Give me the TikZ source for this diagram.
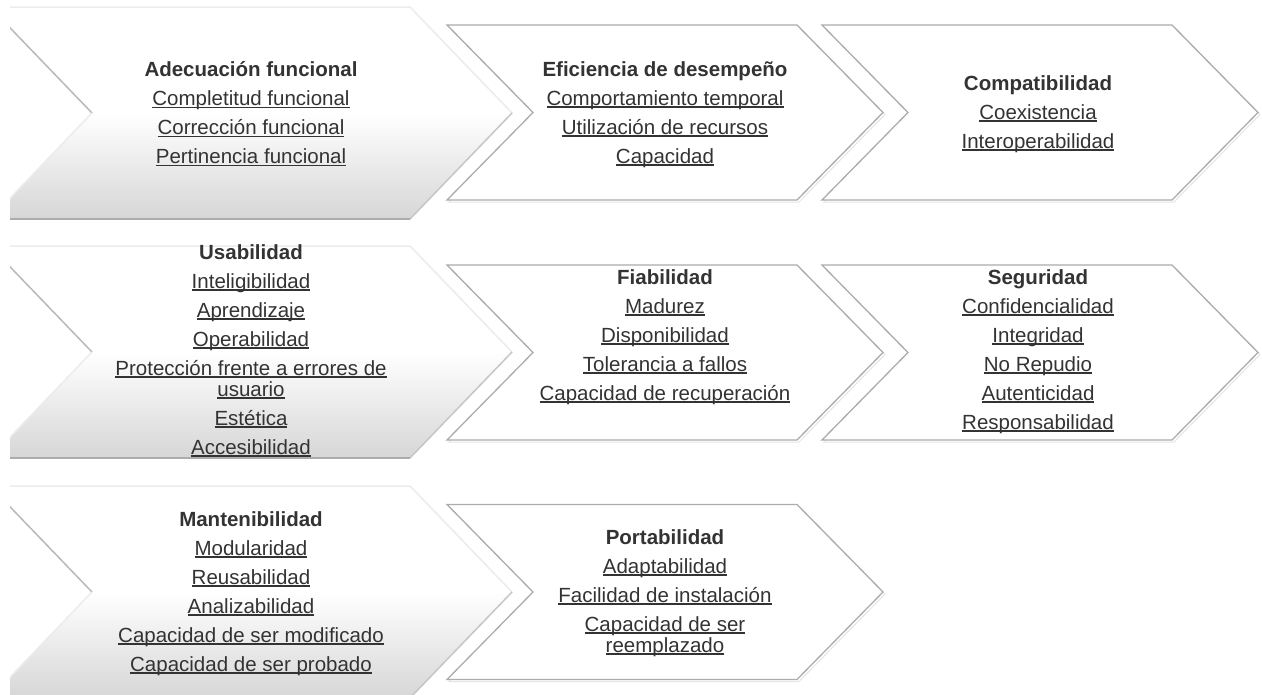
\documentclass[tikz,border=0pt]{standalone}
\usepackage{fontspec}
\setmainfont{Liberation Sans}
\usetikzlibrary{positioning}

\newsavebox{\attrbox}
\newcommand{\attr}[1]{\sbox{\attrbox}{#1}\rlap{\rule[-2.6pt]{\wd\attrbox}{1.2pt}}\usebox{\attrbox}}

% grey chevron of the first column: #1 centre y, #2 name
\newcommand{\bigchevron}[2]{%
  \fill[bigchev] (-10,#1-106) coordinate (#2tl) -- ++(420,0) coordinate (#2tr)
    -- ++(102,106) coordinate (#2tip) -- ++(-102,106) coordinate (#2br)
    -- ++(-420,0) coordinate (#2bl) -- ++(102,-106) coordinate (#2n) -- cycle;
  \draw[edge, gray!55] (#2tl) -- (#2n);
  \draw[edge, gray!15] (#2n) -- (#2bl) (#2tl) -- (#2tr) -- (#2tip);
  \draw[edge, gray!45] (#2tip) -- (#2br);
  \draw[edge, gray!65] (#2br) -- (#2bl);
}
% white chevron: #1 left x, #2 centre y
\newcommand{\smallchevron}[2]{%
  \draw[gray!20, line width=1pt] (#1+2,#2-85.5) -- ++(350,0) -- ++(86,87.5) -- ++(-86,87.5) -- ++(-350,0) -- ++(86,-87.5) -- cycle;
  \filldraw[smallchev] (#1,#2-87.5) -- ++(350,0) -- ++(86,87.5) -- ++(-86,87.5) -- ++(-350,0) -- ++(86,-87.5) -- cycle;
}

\begin{document}
\begin{tikzpicture}[
    x=1pt, y=-1pt,
    bigchev/.style={top color=white, bottom color=gray!32, middle color=white},
    smallchev/.style={fill=white, draw=gray!65, line width=1.3pt},
    edge/.style={line width=1.5pt},
    txt/.style={align=center, inner sep=0pt, anchor=north, text=black!80,
      font=\fontsize{20.5}{21}\selectfont}
  ]
  \useasboundingbox (0,0) rectangle (1262,694);
  \fill[white] (0,0) rectangle (1262,694);

  \begin{scope}
    \clip (10,0) rectangle (1262,694);
    \bigchevron{113}{a}
    \bigchevron{352}{b}
    \bigchevron{592}{c}
  \end{scope}

  \smallchevron{447}{112.5}
  \smallchevron{822}{112.5}
  \smallchevron{447}{352.5}
  \smallchevron{822}{352.5}
  \smallchevron{447}{592}

  \node[txt] (adec) at (251,61) {\textbf{Adecuación funcional}\\[8pt]
    \attr{Completitud funcional}\\[8pt] \attr{Corrección funcional}\\[8pt]
    \attr{Pertinencia funcional}};
  \node[txt] (efic) at (665,61) {\textbf{Eficiencia de desempeño}\\[8pt]
    \attr{Comportamiento temporal}\\[8pt] \attr{Utilización de recursos}\\[8pt]
    \attr{Capacidad}};
  \node[txt] (compat) at (1038,75) {\textbf{Compatibilidad}\\[8pt]
    \attr{Coexistencia}\\[8pt] \attr{Interoperabilidad}};
  \node[txt] (usab) at (251,244) {\textbf{Usabilidad}\\[8pt]
    \attr{Inteligibilidad}\\[8pt] \attr{Aprendizaje}\\[8pt] \attr{Operabilidad}\\[8pt]
    \attr{Protección frente a errores de}\\ \attr{usuario}\\[8pt]
    \attr{Estética}\\[8pt] \attr{Accesibilidad}};
  \node[txt] (fiab) at (665,269) {\textbf{Fiabilidad}\\[8pt]
    \attr{Madurez}\\[8pt] \attr{Disponibilidad}\\[8pt] \attr{Tolerancia a fallos}\\[8pt]
    \attr{Capacidad de recuperación}};
  \node[txt] (segu) at (1038,269) {\textbf{Seguridad}\\[8pt]
    \attr{Confidencialidad}\\[8pt] \attr{Integridad}\\[8pt] \attr{No Repudio}\\[8pt]
    \attr{Autenticidad}\\[8pt] \attr{Responsabilidad}};
  \node[txt] (mant) at (251,511) {\textbf{Mantenibilidad}\\[8pt]
    \attr{Modularidad}\\[8pt] \attr{Reusabilidad}\\[8pt] \attr{Analizabilidad}\\[8pt]
    \attr{Capacidad de ser modificado}\\[8pt] \attr{Capacidad de ser probado}};
  \node[txt] (port) at (665,529) {\textbf{Portabilidad}\\[8pt]
    \attr{Adaptabilidad}\\[8pt] \attr{Facilidad de instalación}\\[8pt]
    \attr{Capacidad de ser}\\ \attr{reemplazado}};
\end{tikzpicture}
\end{document}
